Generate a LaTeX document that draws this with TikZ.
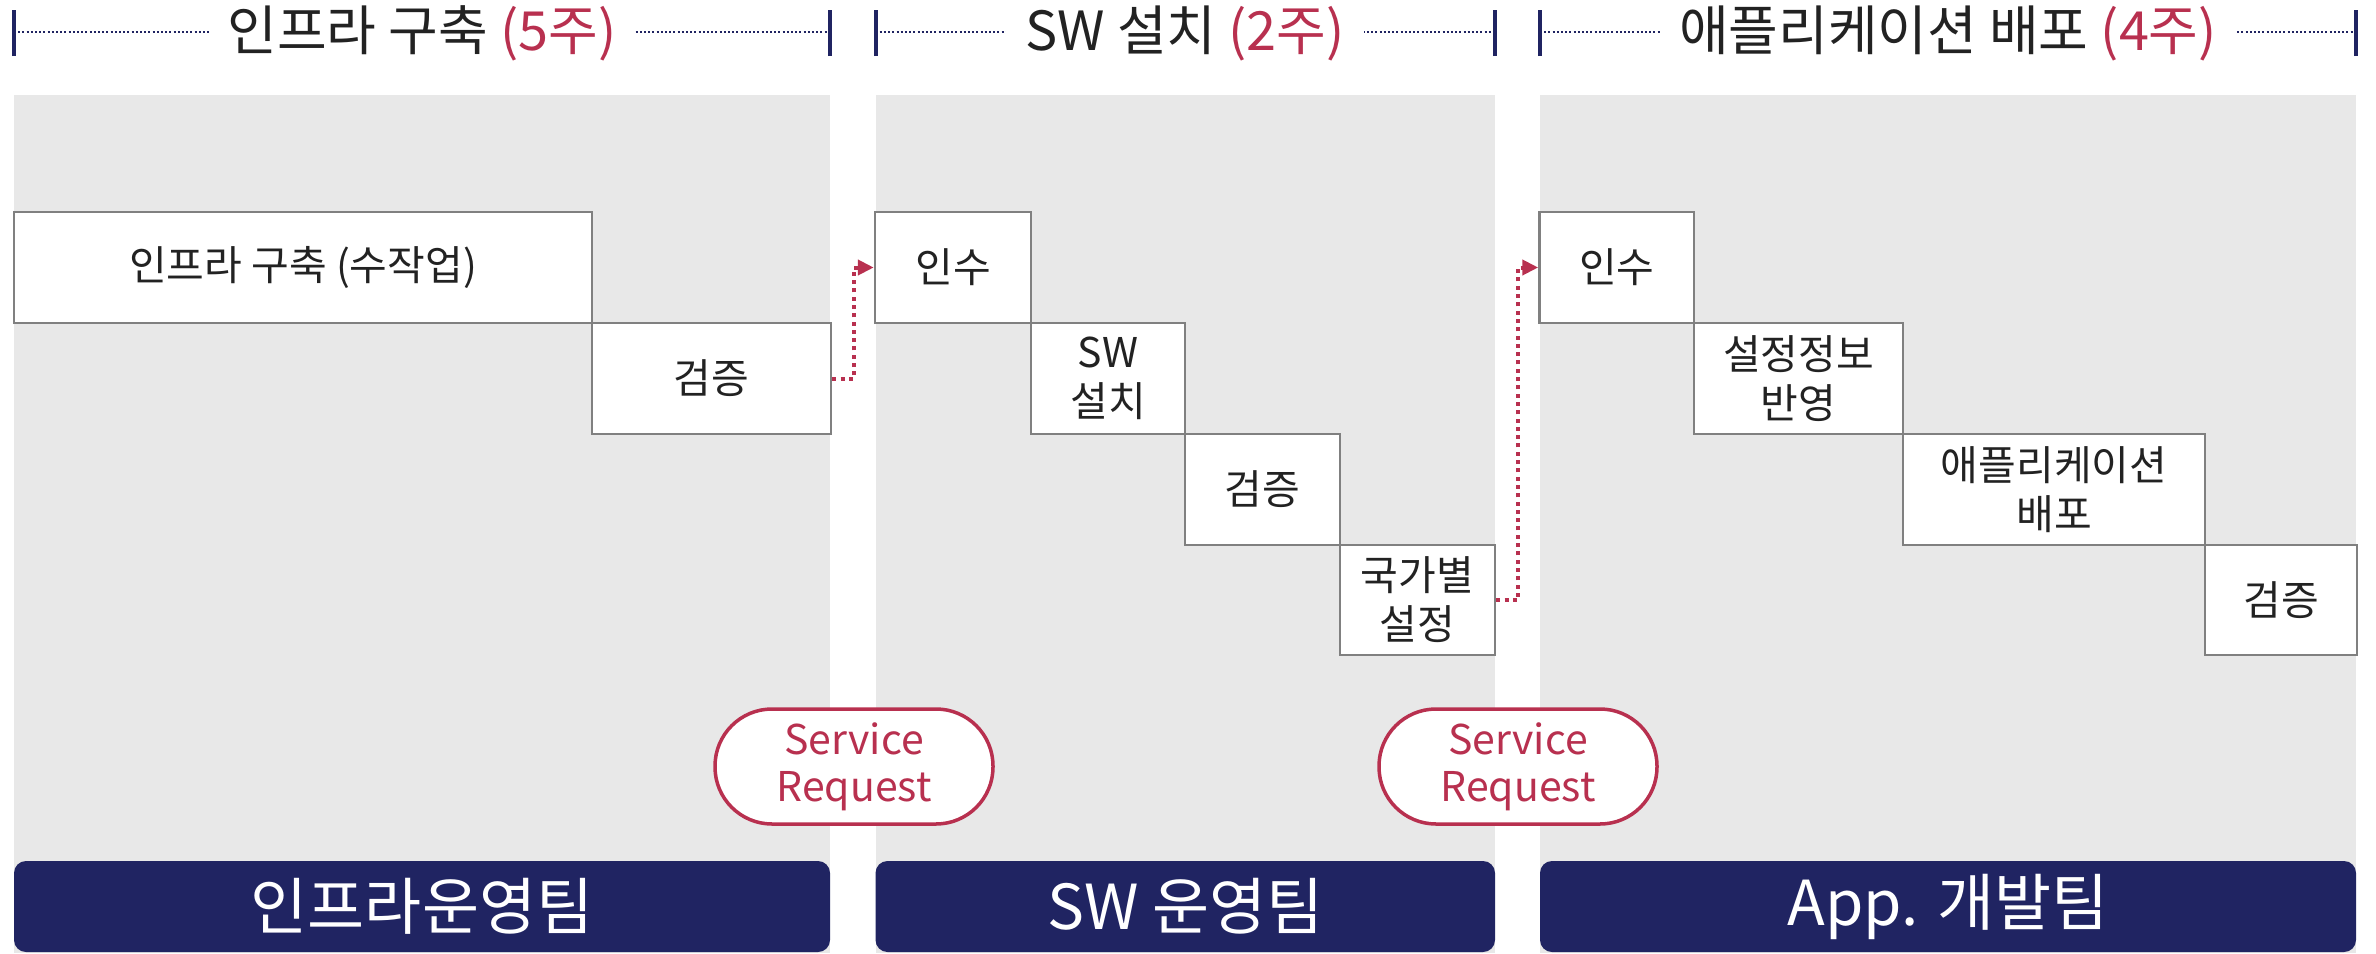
\documentclass[tikz,border=0pt]{standalone}
\usepackage{fontspec}
\setmainfont{Noto Sans CJK KR}
\usetikzlibrary{arrows.meta}
\definecolor{navy}{HTML}{202462}
\definecolor{crim}{HTML}{B8304F}
\definecolor{panelgray}{HTML}{E8E8E8}
\definecolor{bord}{HTML}{808080}
\definecolor{ink}{HTML}{222222}
\tikzset{
  panelbg/.style={fill=panelgray, draw=none},
  task/.style={draw=bord, line width=2.5pt, fill=white, text=ink, align=center,
    inner sep=0pt, minimum height=111pt, font=\fontsize{41}{49}\selectfont},
  teambar/.style={fill=navy, draw=none, rounded corners=12pt, text=white,
    inner sep=0pt, minimum height=91pt, font=\fontsize{62}{70}\selectfont},
  hdr/.style={fill=white, text=ink, inner xsep=19pt, inner ysep=0pt,
    font=\fontsize{54}{60}\selectfont},
  hdot/.style={draw=navy, line width=2pt, dash pattern=on 2pt off 2.2pt},
  htick/.style={draw=navy, line width=4pt},
  srpill/.style={draw=crim, line width=3.5pt, fill=white, text=crim, align=center,
    rounded corners=57pt, minimum width=278pt, minimum height=115pt, inner sep=0pt,
    font=\fontsize{41}{47}\selectfont},
  conn/.style={draw=crim, line width=4pt, dash pattern=on 4pt off 4.3pt,
    -{Triangle[length=16pt,width=15pt]}},
}
\begin{document}
\begin{tikzpicture}[x=1pt,y=-1pt]
\useasboundingbox (0,0) rectangle (2376,953);
% panels
\fill[panelbg] (14,95) rectangle (830,953);
\fill[panelbg] (875.5,95) rectangle (1495,953);
\fill[panelbg] (1540,95) rectangle (2356,953);

% header lines and ticks
\coordinate (l1) at (14,32);   \coordinate (r1) at (830,32);
\coordinate (l2) at (875.5,32); \coordinate (r2) at (1495,32);
\coordinate (l3) at (1540,32); \coordinate (r3) at (2356,32);
\foreach \a/\b in {l1/r1,l2/r2,l3/r3}{
  \draw[hdot] (\a) -- (\b);
  \draw[htick] ([yshift=-24pt]\a) -- ([yshift=22pt]\a);
  \draw[htick] ([yshift=-24pt]\b) -- ([yshift=22pt]\b);
}
\node[hdr] (h1) at (422,33) {인프라 구축 \textcolor{crim}{(5주)}};
\node[hdr] (h2) at (1185,33) {SW 설치 \textcolor{crim}{(2주)}};
\node[hdr] (h3) at (1948,33) {애플리케이션 배포 \textcolor{crim}{(4주)}};

% panel 1 tasks
\node[task, minimum width=578pt] (a1) at (303,267.5) {인프라 구축 (수작업)};
\node[task, minimum width=239pt] (a2) at (711.5,378.5) {검증};
% panel 2 tasks
\node[task, minimum width=156pt] (b1) at (953,267.5) {인수};
\node[task, minimum width=154pt] (b2) at (1108,378.5) {SW\\설치};
\node[task, minimum width=155pt] (b3) at (1262.5,489.5) {검증};
\node[task, minimum width=155pt, minimum height=110pt] (b4) at (1417.5,600) {국가별\\설정};
% panel 3 tasks
\node[task, minimum width=154.5pt] (c1) at (1616.75,267.5) {인수};
\node[task, minimum width=209pt] (c2) at (1798.5,378.5) {설정정보\\반영};
\node[task, minimum width=302pt] (c3) at (2054,489.5) {애플리케이션\\배포};
\node[task, minimum width=152pt, minimum height=110pt] (c4) at (2281,600) {검증};

% service request pills
\node[srpill] (sr1) at (854,766.5) {Service\\Request};
\node[srpill] (sr2) at (1518,766.5) {Service\\Request};

% connectors
\draw[conn] (a2.east) -- (a2.east -| sr1.center) |- (b1.west);
\draw[conn] (b4.east) -- (b4.east -| sr2.center) |- (c1.west);

% team bars
\node[teambar, minimum width=816pt] (t1) at (422,906.5) {인프라운영팀};
\node[teambar, minimum width=619.5pt] (t2) at (1185.25,906.5) {SW 운영팀};
\node[teambar, minimum width=816pt] (t3) at (1948,906.5) {App. 개발팀};
\end{tikzpicture}
\end{document}
